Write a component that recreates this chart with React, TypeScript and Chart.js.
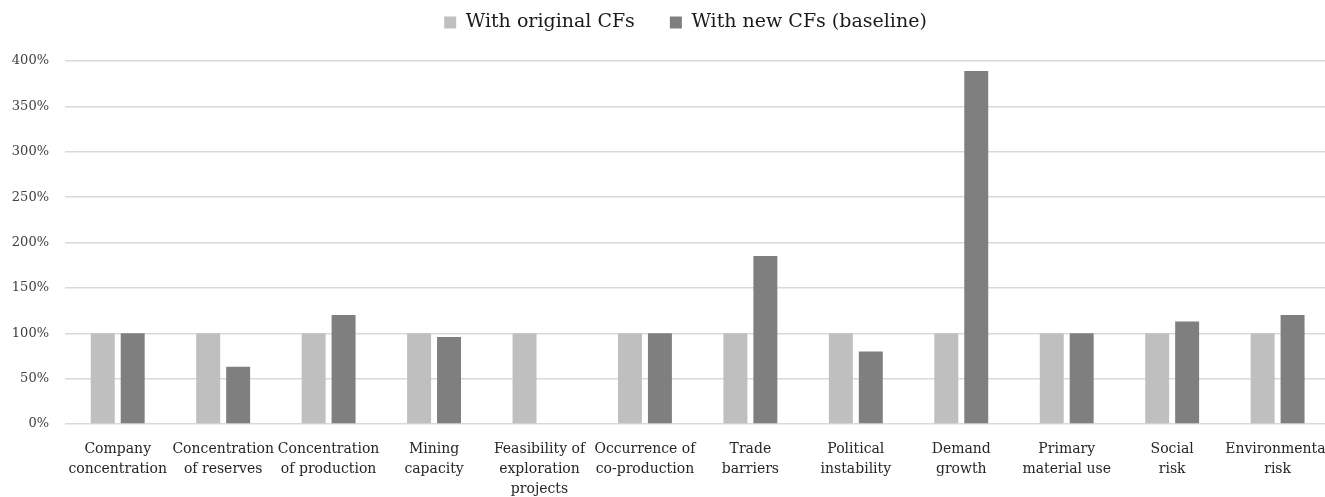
import React, { useEffect, useRef } from "react";
import { Chart, registerables } from "chart.js";

Chart.register(...registerables);

const categories: string[][] = [
  ["Company", "concentration"],
  ["Concentration", "of reserves"],
  ["Concentration", "of production"],
  ["Mining", "capacity"],
  ["Feasibility of", "exploration", "projects"],
  ["Occurrence of", "co-production"],
  ["Trade", "barriers"],
  ["Political", "instability"],
  ["Demand", "growth"],
  ["Primary", "material use"],
  ["Social", "risk"],
  ["Environmental", "risk"],
];

const originalCFs: (number | null)[] = [100, 100, 100, 100, 100, 100, 100, 100, 100, 100, 100, 100];
const newCFs: (number | null)[] = [100, 63, 120, 96, null, 100, 185, 80, 389, 100, 113, 120];

const seriesNames = ["With original CFs", "With new CFs (baseline)"];
const yTicks = { min: 0, max: 400, step: 50 };

const FONT = "'DejaVu Serif', 'Liberation Serif', serif";

const legendTweak = {
  id: "legendTweak",
  afterInit(chart: any) {
    const legend = chart.legend;
    if (!legend) return;
    const origFit = legend.fit;
    legend.fit = function () {
      origFit.call(this);
      this.height = 61;
    };
    const origDraw = legend.draw;
    legend.draw = function (...args: any[]) {
      const ctx = this.ctx;
      ctx.save();
      ctx.translate(13, -22);
      origDraw.apply(this, args);
      ctx.restore();
    };
  },
};

export default function App() {
  const ref = useRef<HTMLCanvasElement | null>(null);
  useEffect(() => {
    if (!ref.current) return;
    const chart = new Chart(ref.current, {
      type: "bar",
      data: {
        labels: categories,
        datasets: [
          {
            label: seriesNames[0],
            data: originalCFs,
            backgroundColor: "#BFBFBF",
            categoryPercentage: 0.568,
            barPercentage: 0.8,
          },
          {
            label: seriesNames[1],
            data: newCFs,
            backgroundColor: "#7F7F7F",
            categoryPercentage: 0.568,
            barPercentage: 0.8,
          },
        ],
      },
      options: {
        animation: false,
        responsive: false,
        maintainAspectRatio: false,
        layout: { padding: 0 },
        plugins: {
          legend: {
            position: "top",
            labels: {
              boxWidth: 12,
              boxHeight: 12,
              padding: 35,
              color: "#1a1a1a",
              font: { family: FONT, size: 19 },
            },
          },
          tooltip: { enabled: false },
        },
        scales: {
          x: {
            afterFit: (s: any) => {
              s.height = 73;
            },
            grid: { display: false, drawTicks: false },
            border: { display: false },
            ticks: {
              autoSkip: false,
              maxRotation: 0,
              minRotation: 0,
              padding: 15,
              color: "#262626",
              font: { family: FONT, size: 14, lineHeight: 1.43 },
            },
          },
          y: {
            min: yTicks.min,
            max: yTicks.max,
            afterFit: (s: any) => {
              s.width = 65;
            },
            grid: { color: "#D9D9D9", lineWidth: 1.5, drawTicks: false },
            border: { display: false },
            ticks: {
              stepSize: yTicks.step,
              padding: 16,
              color: "#404040",
              font: { family: FONT, size: 13 },
              callback: (v: any) => v + "%",
            },
          },
        },
      },
      plugins: [legendTweak],
    });
    return () => chart.destroy();
  }, []);
  return (
    <div
      style={{
        position: "fixed",
        left: 0,
        top: 0,
        width: 1325,
        height: 497,
        overflow: "hidden",
        background: "#fff",
      }}
    >
      <canvas ref={ref} width={1345} height={497} style={{ display: "block" }} />
    </div>
  );
}
